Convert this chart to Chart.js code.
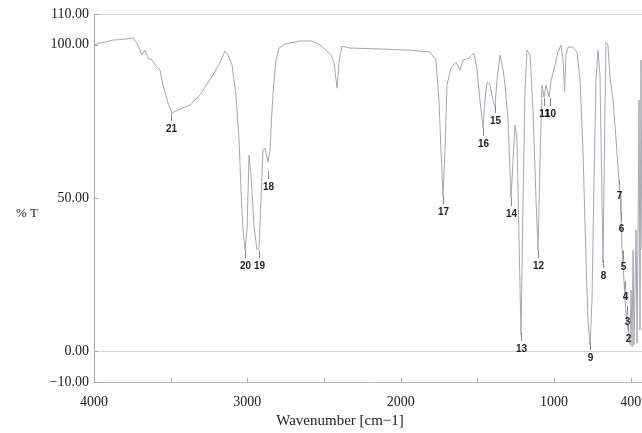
<!DOCTYPE html>
<html>
<head>
<meta charset="utf-8">
<script src="https://cdn.jsdelivr.net/npm/chart.js@4"></script>
<style>
  html, body { margin: 0; padding: 0; background: #fff; }
  #wrap { width: 642px; height: 433px; position: relative; }
</style>
</head>
<body>
<div id="wrap"><canvas id="ir"></canvas></div>
<script>
// spectrum (x in the plot's wavenumber scale, y in %T)
const wavenumber = [
  4000, 3961, 3876, 3798, 3746, 3720, 3687, 3667, 3648, 3622, 3589, 3570, 3550, 3517, 3491,
  3452, 3374, 3309, 3224, 3178, 3146, 3126, 3100, 3074, 3054, 3041, 3028, 3015, 3002, 2989,
  2976, 2957, 2937, 2924, 2911, 2898, 2885, 2865, 2852, 2839, 2826, 2813, 2793, 2754, 2656,
  2578, 2526, 2487, 2454, 2435, 2415, 2402, 2383, 2330, 2135, 1939, 1809, 1770, 1750, 1737,
  1724, 1711, 1698, 1672, 1639, 1613, 1593, 1554, 1522, 1502, 1483, 1463, 1450, 1437, 1417,
  1398, 1385, 1372, 1352, 1332, 1319, 1300, 1287, 1280, 1267, 1254, 1241, 1228, 1215, 1202,
  1189, 1176, 1156, 1137, 1117, 1104, 1091, 1078, 1065, 1052, 1032, 1019, 993, 974, 954,
  941, 931, 922, 908, 876, 850, 830, 811, 791, 778, 765, 752, 739, 726, 713,
  700, 690, 680, 671, 661, 648, 635, 615, 595, 576, 569, 563, 556, 550, 543,
  537, 530, 524, 517, 504, 497, 491, 484, 478, 465, 458, 445, 439, 432, 426
];
const transmittance = [
  99.9, 100.5, 101.5, 101.8, 102.2, 100.5, 96.6, 98.2, 95.6, 95.0, 92.7, 91.8, 86.8, 81.0, 77.7,
  78.7, 80.3, 83.6, 90.1, 94.3, 97.9, 96.6, 93.4, 83.6, 68.9, 52.6, 39.6, 33.0, 39.6, 64.0,
  57.5, 41.2, 33.0, 33.7, 49.3, 65.6, 66.3, 61.7, 65.6, 78.7, 88.4, 95.0, 98.9, 100.2, 101.2,
  101.2, 99.9, 98.2, 96.6, 94.3, 85.8, 94.3, 99.5, 98.9, 98.6, 98.2, 97.6, 95.0, 81.9, 65.6,
  50.6, 65.6, 86.8, 92.4, 94.3, 91.8, 95.0, 95.6, 97.3, 91.8, 81.9, 72.8, 81.9, 87.7, 86.8,
  81.9, 79.9, 88.4, 96.6, 91.8, 86.8, 75.4, 59.2, 50.0, 62.4, 73.8, 68.9, 36.3, 5.3, 49.3,
  85.2, 98.2, 96.6, 78.7, 49.3, 33.0, 62.4, 86.8, 82.9, 86.8, 82.9, 88.4, 93.4, 97.6, 99.9,
  95.0, 84.5, 96.6, 99.2, 99.2, 97.6, 88.4, 65.6, 29.8, 9.9, 2.1, 16.7, 55.9, 88.4, 98.2,
  90.1, 59.2, 28.8, 65.6, 100.8, 99.9, 89.4, 81.9, 68.9, 55.2, 51.0, 44.5, 33.0, 29.1, 22.6,
  16.7, 12.8, 9.6, 6.9, 2.1, 20.0, 1.4, 33.0, 2.1, 39.6, 2.7, 81.9, 6.9, 95.0, 33.0
];

// numbered peak markers: wavenumber and %T at the top of the marker tick
const peakNo = ['21', '20', '19', '18', '17', '16', '15', '14', '13', '12', '11', '10', '9', '8', '7', '6', '5', '4', '3', '2'];
const peakWn = [3498, 3015, 2924, 2865, 1724, 1463, 1385, 1280, 1215, 1104, 1065, 1026, 765, 680, 576, 563, 550, 537, 524, 517];
const peakT  = [77.7, 33.0, 33.0, 58.8, 50.6, 72.8, 80.3, 50.0, 6.0, 33.0, 82.6, 82.6, 3.0, 29.8, 55.9, 45.1, 32.7, 22.9, 14.8, 9.2];

const xTicks = [4000, 3500, 3000, 2500, 2000, 1500, 1000, 500];
const xTickLabels = ['4000', '', '3000', '', '2000', '', '1000', '400'];
const yTicks = [-10, 0, 50, 100, 110];

const serif = '"Liberation Serif", "Times New Roman", serif';

const extras = {
  id: 'extras',
  afterDraw(chart) {
    const { ctx, chartArea } = chart;
    const xs = chart.scales.x, ys = chart.scales.y;
    ctx.save();

    // inward tick marks
    ctx.strokeStyle = '#a8a8a8';
    ctx.lineWidth = 1;
    ctx.beginPath();
    xTicks.forEach(v => {
      const px = Math.round(xs.getPixelForValue(v)) + 0.5;
      ctx.moveTo(px, chartArea.bottom);
      ctx.lineTo(px, chartArea.bottom - 4);
    });
    yTicks.forEach(v => {
      const py = Math.round(ys.getPixelForValue(v)) + 0.5;
      ctx.moveTo(chartArea.left, py);
      ctx.lineTo(chartArea.left + 4, py);
    });
    ctx.stroke();

    // peak numbers
    ctx.font = 'bold 10px "Liberation Sans", Arial, sans-serif';
    ctx.textAlign = 'center';
    ctx.textBaseline = 'middle';
    peakNo.forEach((n, i) => {
      const px = Math.round(xs.getPixelForValue(peakWn[i])) + 0.5;
      const py = ys.getPixelForValue(peakT[i]);
      ctx.strokeStyle = '#8a8a8a';
      ctx.beginPath();
      ctx.moveTo(px, py);
      ctx.lineTo(px, py + 8);
      ctx.stroke();
      ctx.fillStyle = '#1e1e1e';
      ctx.fillText(n, px, py + 16);
    });

    // axis titles
    ctx.fillStyle = '#222';
    ctx.font = '15px ' + serif;
    ctx.fillText('Wavenumber [cm\u22121]', 340, 421);
    ctx.font = '13px ' + serif;
    ctx.fillText('% T', 27, 214);
    ctx.restore();
  }
};

new Chart(document.getElementById('ir'), {
  type: 'line',
  data: {
    datasets: [{
      data: wavenumber.map((w, i) => ({ x: w, y: transmittance[i] })),
      borderColor: '#a6a6b2',
      borderWidth: 1,
      pointRadius: 0,
      tension: 0,
      fill: false,
    }],
  },
  options: {
    responsive: true,
    maintainAspectRatio: false,
    animation: false,
    events: [],
    layout: { padding: { top: 14, right: 0, left: 0, bottom: 0 } },
    plugins: { legend: { display: false }, tooltip: { enabled: false } },
    scales: {
      x: {
        type: 'linear',
        reverse: true,
        min: 426,
        max: 4000,
        afterBuildTicks: s => { s.ticks = xTicks.map(v => ({ value: v })); },
        afterFit: s => { s.height = 51; s.paddingLeft = 0; s.paddingRight = 0; },
        ticks: {
          autoSkip: false,
          maxRotation: 0,
          padding: 12,
          color: '#222',
          font: { family: serif, size: 14 },
          callback: v => xTickLabels[xTicks.indexOf(v)],
        },
        grid: { drawOnChartArea: false, drawTicks: false },
        border: { color: '#b4b4b4' },
      },
      y: {
        min: -10,
        max: 110,
        afterBuildTicks: s => { s.ticks = yTicks.map(v => ({ value: v })); },
        afterFit: s => { s.width = 94; s.paddingTop = 0; s.paddingBottom = 0; },
        ticks: {
          padding: 5,
          color: '#222',
          font: { family: serif, size: 14 },
          callback: v => v.toFixed(2).replace('-', '\u2212'),
        },
        grid: {
          drawTicks: false,
          color: c => (c.tick && (c.tick.value === 0 || c.tick.value === 110)) ? '#d4d4d4' : 'rgba(0,0,0,0)',
        },
        border: { color: '#a8a8a8' },
      },
    },
  },
  plugins: [extras],
});
</script>
</body>
</html>
